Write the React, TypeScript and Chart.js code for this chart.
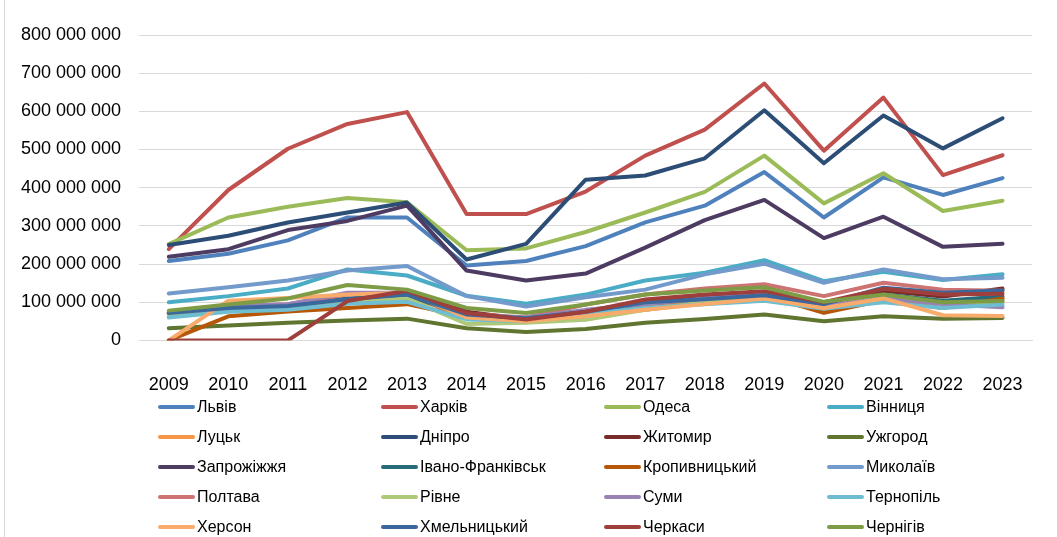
import React, { useEffect, useRef } from "react";
import { Chart, registerables } from "chart.js";

Chart.register(...registerables);

const years = ["2009","2010","2011","2012","2013","2014","2015","2016","2017","2018","2019","2020","2021","2022","2023"];

// values in millions
const lviv = [208, 227, 262, 322, 322, 196, 208, 247, 309, 353, 441, 322, 427, 381, 425];
const kharkiv = [239, 394, 502, 567, 598, 331, 331, 390, 484, 552, 673, 497, 636, 433, 485];
const odesa = [252, 322, 350, 373, 362, 236, 241, 284, 335, 389, 484, 359, 438, 339, 366];
const vinnytsia = [100, 116, 136, 186, 170, 117, 96, 120, 157, 177, 210, 155, 180, 158, 173];
const lutsk = [70, 80, 85, 105, 115, 65, 55, 65, 90, 107, 122, 80, 115, 100, 105];
const dnipro = [250, 274, 309, 335, 361, 212, 253, 421, 432, 477, 603, 464, 589, 503, 582];
const zhytomyr = [70, 85, 90, 105, 125, 75, 55, 78, 100, 115, 125, 95, 130, 115, 136];
const uzhhorod = [32, 39, 46, 52, 57, 32, 22, 30, 46, 56, 68, 50, 63, 57, 59];
const zaporizhzhia = [219, 239, 289, 313, 353, 183, 157, 175, 243, 315, 368, 268, 324, 245, 253];
const ivanoFrankivsk = [70, 85, 90, 110, 118, 65, 58, 75, 95, 110, 118, 95, 120, 104, 115];
const kropyvnytskyi = [0, 63, 76, 85, 95, 62, 50, 65, 80, 100, 118, 72, 105, 85, 110];
const mykolaiv = [123, 139, 157, 183, 195, 116, 89, 113, 133, 173, 201, 151, 186, 160, 164];
const poltava = [72, 88, 95, 120, 125, 70, 60, 94, 120, 136, 147, 116, 151, 133, 130];
const rivne = [65, 80, 88, 100, 110, 43, 46, 54, 80, 100, 110, 88, 115, 95, 100];
const sumy = [75, 90, 95, 125, 125, 65, 60, 80, 95, 110, 120, 90, 110, 95, 87];
const ternopil = [60, 75, 80, 96, 101, 55, 50, 70, 85, 95, 104, 83, 100, 85, 94];
const kherson = [0, 104, 111, 120, 125, 60, 50, 63, 80, 95, 110, 85, 110, 66, 64];
const khmelnytskyi = [72, 85, 90, 108, 120, 68, 58, 75, 100, 108, 118, 95, 138, 125, 131];
const cherkasy = [0, 0, 0, 103, 130, 72, 55, 75, 107, 120, 129, 100, 135, 120, 122];
const chernihiv = [78, 94, 110, 145, 133, 85, 72, 94, 120, 131, 139, 101, 120, 100, 103];

const seriesNames = ["Львів","Харків","Одеса","Вінниця","Луцьк","Дніпро","Житомир","Ужгород","Запрожіжжя","Івано-Франківськ","Кропивницький","Миколаїв","Полтава","Рівне","Суми","Тернопіль","Херсон","Хмельницький","Черкаси","Чернігів"];
const seriesValues = [lviv, kharkiv, odesa, vinnytsia, lutsk, dnipro, zhytomyr, uzhhorod, zaporizhzhia, ivanoFrankivsk, kropyvnytskyi, mykolaiv, poltava, rivne, sumy, ternopil, kherson, khmelnytskyi, cherkasy, chernihiv];
const seriesColors = ["#4F81BD","#C0504D","#9BBB59","#4BACC6","#F79646","#2C4D75","#772C2A","#5F7530","#4D3B62","#276A7C","#B65708","#729ACA","#CD7371","#AFC97A","#9983B5","#6FBDD1","#F9AB6B","#3A679C","#9E3F3C","#7E9B45"];

const FONT = "'Liberation Sans', Arial, sans-serif";

const fmt = (v: number) => String(Math.round(v)).replace(/\B(?=(\d{3})+(?!\d))/g, " ");

const legendPlugin = {
  id: "gridLegend",
  afterDraw(chart: any) {
    const ctx = chart.ctx;
    ctx.save();
    chart.data.datasets.forEach((ds: any, i: number) => {
      const col = i % 4;
      const row = Math.floor(i / 4);
      const x = 160 + col * 223;
      const y = 407 + row * 30;
      ctx.strokeStyle = ds.borderColor;
      ctx.lineWidth = 4;
      ctx.lineCap = "round";
      ctx.beginPath();
      ctx.moveTo(x, y);
      ctx.lineTo(x + 33, y);
      ctx.stroke();
      ctx.fillStyle = "#000";
      ctx.font = `16px ${FONT}`;
      ctx.textBaseline = "middle";
      ctx.textAlign = "left";
      ctx.fillText(ds.label, x + 37, y + 1);
    });
    ctx.restore();
  },
};

export default function App() {
  const ref = useRef<HTMLCanvasElement>(null);
  useEffect(() => {
    document.body.style.margin = "0";
    const n = seriesNames.length;
    const chart = new Chart(ref.current!, {
      type: "line",
      data: {
        labels: years,
        datasets: seriesNames.map((name, i) => ({
          label: name,
          data: seriesValues[i].map((v) => v * 1000000),
          borderColor: seriesColors[i],
          backgroundColor: seriesColors[i],
          borderWidth: 4,
          pointRadius: 0,
          tension: 0,
          borderCapStyle: "round" as const,
          borderJoinStyle: "round" as const,
          order: n - i,
        })),
      },
      options: {
        responsive: false,
        animation: false,
        layout: { padding: { left: 0, right: 13, top: 35, bottom: 107 } },
        plugins: { legend: { display: false }, tooltip: { enabled: false } },
        scales: {
          x: {
            offset: true,
            grid: { display: false, drawTicks: false },
            border: { display: true, color: "#D9D9D9", width: 1 },
            ticks: { color: "#000", font: { family: FONT, size: 18 }, padding: 34, maxRotation: 0 },
          },
          y: {
            min: 0,
            max: 800000000,
            afterFit(scale: any) { scale.width = 139; },
            grid: { color: "#D9D9D9", lineWidth: 1, drawTicks: false },
            border: { display: false },
            ticks: {
              stepSize: 100000000,
              color: "#000",
              font: { family: FONT, size: 18 },
              padding: 18,
              callback: (v: any) => fmt(Number(v)),
            },
          },
        },
      },
      plugins: [legendPlugin],
    });
    return () => chart.destroy();
  }, []);
  return (
    <div style={{ width: 1057, height: 537, position: "relative", background: "#fff" }}>
      <div style={{ position: "absolute", left: 4, top: 0, width: 1, height: 537, background: "#D9D9D9" }} />
      <canvas ref={ref} width={1057} height={537} />
    </div>
  );
}
